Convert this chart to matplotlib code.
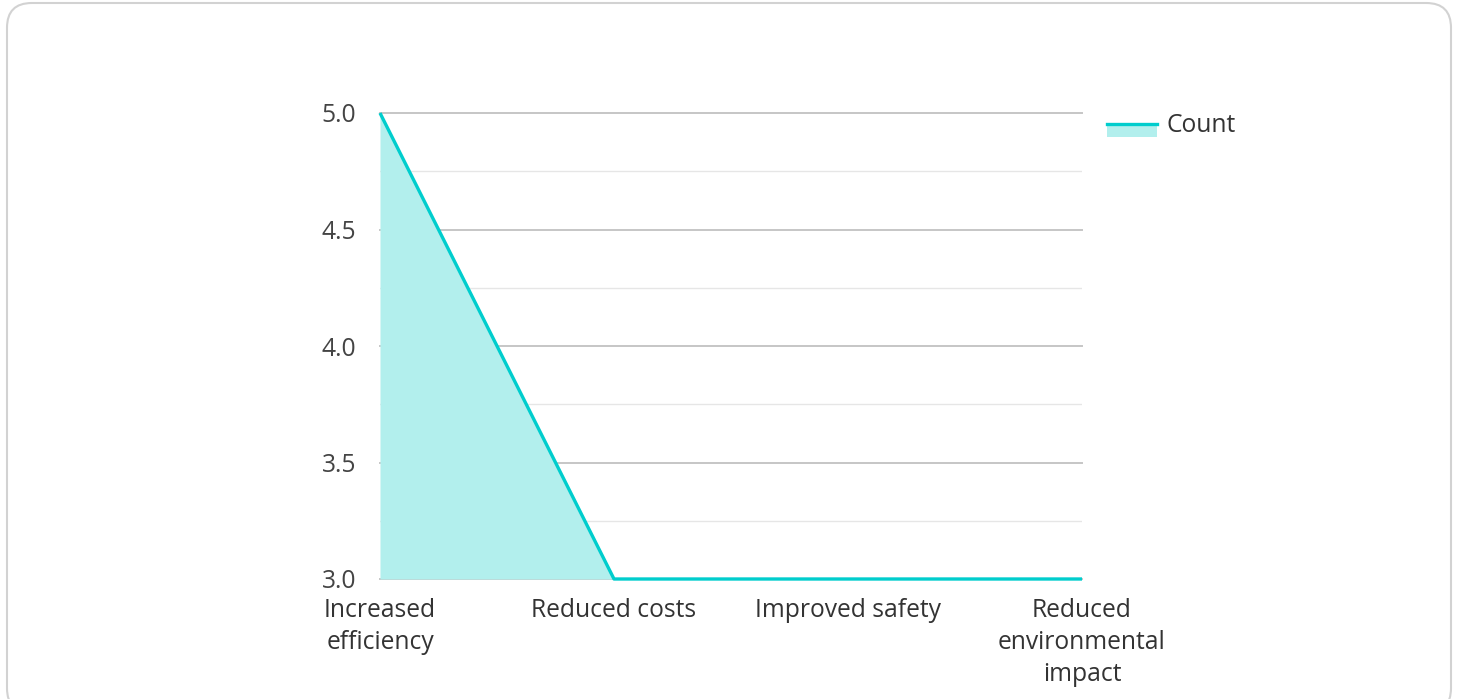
import matplotlib.pyplot as plt
from matplotlib.patches import FancyBboxPatch, Rectangle
from matplotlib.lines import Line2D

plt.rcParams['font.family'] = ['Open Sans', 'DejaVu Sans']

# données du graphique
categories = ['Increased\nefficiency', 'Reduced costs', 'Improved safety',
              'Reduced\nenvironmental\nimpact']
count = [5, 3, 3, 3]
y_ticks = [3.0, 3.5, 4.0, 4.5, 5.0]

couleur_ligne = '#00cdcd'
couleur_aire = '#b2efed'
taille = 17.75

fig = plt.figure(figsize=(14.58, 6.99), dpi=100)

# cadre arrondi autour de la figure
cadre = FancyBboxPatch((7 / 1458, -0.02), 1444 / 1458, 1.02 - 3 / 699,
                       boxstyle='round,pad=0,rounding_size=0.017',
                       transform=fig.transFigure, fc='none', ec='#d2d2d2',
                       lw=1.5, mutation_aspect=1458 / 699, zorder=-10)
fig.patches.append(cadre)

ax = fig.add_axes([380 / 1458, 120 / 699, 702 / 1458, 466 / 699])
ax.set_facecolor('none')

x = list(range(len(categories)))
ax.fill_between(x, count, 3.0, color=couleur_aire, lw=0, zorder=2)
ax.plot(x, count, color=couleur_ligne, lw=2.4, zorder=3, solid_capstyle='butt',
        clip_on=False)

ax.set_xlim(0, len(categories) - 1)
ax.set_ylim(3.0, 5.0)
ax.set_yticks(y_ticks)
ax.set_yticklabels([f'{v:.1f}' for v in y_ticks])
ax.set_yticks([3.25, 3.75, 4.25, 4.75], minor=True)
ax.set_xticks(x)
ax.set_xticklabels(categories, linespacing=1.36)

ax.grid(axis='y', which='major', color='#c6c6c6', lw=1.4, zorder=1, clip_on=False)
ax.grid(axis='y', which='minor', color='#e6e6e6', lw=1.0, zorder=1)
for s in ax.spines.values():
    s.set_visible(False)

ax.tick_params(axis='y', which='both', length=0, pad=17, labelsize=taille,
               labelcolor='#444444')
ax.tick_params(axis='x', length=0, pad=14, labelsize=taille, labelcolor='#333333')

# légende : ligne au-dessus d'une bande claire
fig.add_artist(Rectangle((1107 / 1458, 1 - 137 / 699), 50 / 1458, 14 / 699,
                         transform=fig.transFigure, fc=couleur_aire, lw=0))
fig.add_artist(Line2D([1107 / 1458, 1157 / 1458], [1 - 124 / 699, 1 - 124 / 699],
                      transform=fig.transFigure, color=couleur_ligne, lw=2.4))
fig.text(1167 / 1458, 1 - 126 / 699, 'Count', fontsize=taille, color='#333333',
         va='center', ha='left')

fig.savefig('out.png', dpi=100)
